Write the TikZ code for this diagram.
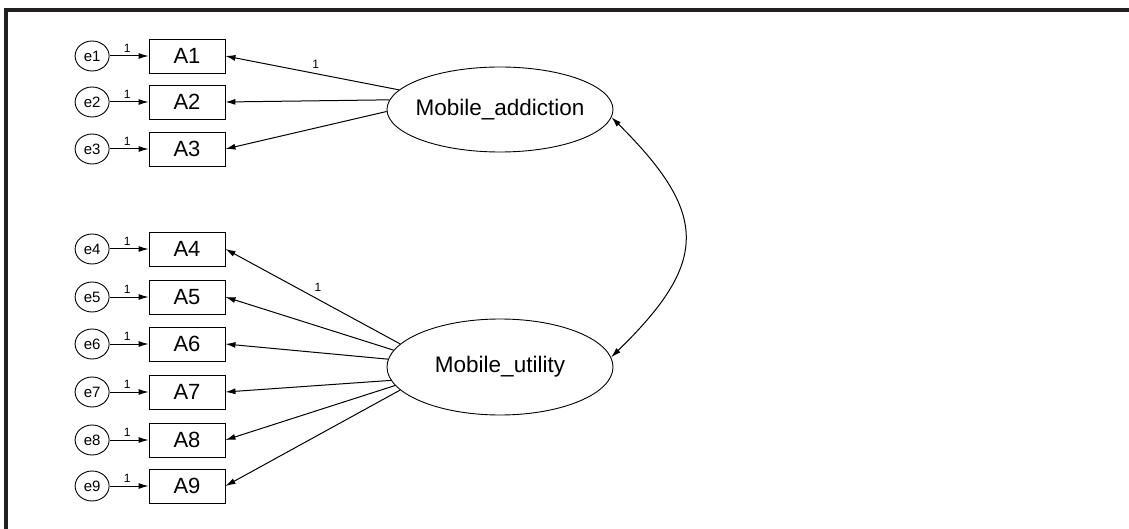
\documentclass[tikz,border=0pt]{standalone}
\usepackage{fontspec}
\setmainfont{Liberation Sans}
\usetikzlibrary{shapes.geometric,arrows.meta,positioning}

\begin{document}
\begin{tikzpicture}[x=1pt,y=-1pt,
  obs/.style={draw,line width=0.9pt,minimum width=76pt,minimum height=34pt,inner sep=0pt,font=\fontsize{22}{24}\selectfont},
  err/.style={draw,ellipse,line width=0.9pt,minimum width=34pt,minimum height=30pt,inner sep=0pt,font=\fontsize{15}{16}\selectfont},
  lat/.style={draw,ellipse,line width=0.9pt,minimum width=226pt,inner xsep=-20pt,inner ysep=0pt,font=\fontsize{22.5}{24}\selectfont},
  path/.style={line width=1pt,-{Latex[length=10pt,width=6pt]}},
  cov/.style={line width=1pt,{Latex[length=10pt,width=6pt]}-{Latex[length=10pt,width=6pt]}},
  one/.style={font=\fontsize{12}{13}\selectfont,inner sep=1pt}]
\useasboundingbox (0,0) rectangle (1129,529);
\fill[fill={rgb,255:red,35;green,31;blue,32}] (4,8) rectangle (1129,12);
\fill[fill={rgb,255:red,35;green,31;blue,32}] (4,8) rectangle (8,529);

\foreach \i/\y in {1/56,2/102,3/149,4/249,5/297,6/344,7/392,8/440,9/486} {
\node[obs] (A\i) at (187,\y) {A\i};
\node[err, left=39pt of A\i] (e\i) {e\i};
\draw[path] (e\i) -- node[pos=.45,above=2pt,one] {1} (A\i);
}

\node[lat,minimum height=85pt] (ML) at (500,109.5) {Mobile\_addiction};
\node[lat,minimum height=96pt] (MU) at (500,367) {Mobile\_utility};

\draw[path] (ML.169) -- node[pos=.48,above=4pt,one] {1} (A1.east);
\foreach \i/\a in {2/175,3/181} {
\draw[path] (ML.\a) -- (A\i.east);
}
\draw[path] (MU.167) -- node[pos=.47,above=6pt,one] {1} (A4.east);
\foreach \i/\a in {5/171,6/176,7/187,8/190,9/193} {
\draw[path] (MU.\a) -- (A\i.east);
}

\draw[cov] (ML.-4) .. controls (709,214) and (709,262) .. (MU.5);
\end{tikzpicture}
\end{document}
